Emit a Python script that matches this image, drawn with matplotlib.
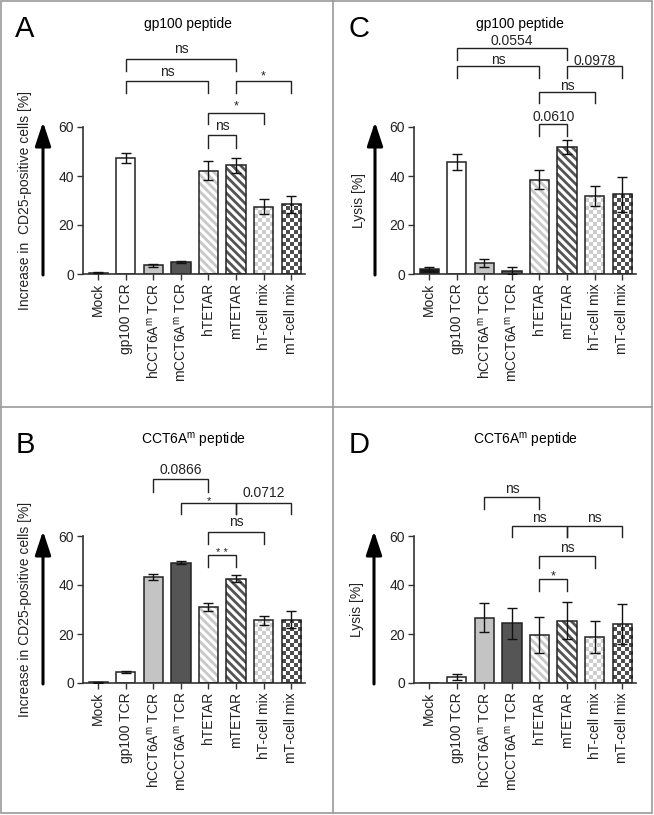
import matplotlib
matplotlib.use('Agg')
import matplotlib.pyplot as plt
import numpy as np
from matplotlib.colors import ListedColormap
from matplotlib.lines import Line2D
from matplotlib.patches import FancyArrowPatch, Rectangle

# ---------------- data ----------------
categories = ['Mock', 'gp100 TCR', r'hCCT6A$^\mathregular{m}$ TCR', r'mCCT6A$^\mathregular{m}$ TCR',
              'hTETAR', 'mTETAR', 'hT-cell mix', 'mT-cell mix']

vals_A = [0.5, 47.3, 3.5, 4.8, 42.2, 44.3, 27.5, 28.4]
err_A = [0.2, 2.0, 0.5, 0.4, 3.9, 3.2, 3.2, 3.4]
vals_C = [2.0, 45.7, 4.5, 1.3, 38.5, 51.8, 31.8, 32.6]
err_C = [0.9, 3.3, 1.6, 1.5, 3.9, 3.0, 4.0, 7.1]
vals_B = [0.3, 4.5, 43.3, 49.0, 31.0, 42.6, 25.6, 25.8]
err_B = [0.2, 0.6, 1.2, 0.6, 1.7, 1.4, 1.8, 3.5]
vals_D = [0.0, 2.3, 26.7, 24.4, 19.6, 25.4, 18.9, 24.2]
err_D = [0.0, 1.2, 6.0, 6.4, 7.3, 7.5, 6.5, 8.1]

yticks = [0, 20, 40, 60]

# comparisons: (left bar, right bar, label)
comp_A = [(1, 5, 'ns'), (1, 4, 'ns'), (5, 7, '*'), (4, 6, '*'), (4, 5, 'ns')]
comp_C = [(1, 5, '0.0554'), (1, 4, 'ns'), (5, 7, '0.0978'), (4, 6, 'ns'), (4, 5, '0.0610')]
comp_B = [(2, 4, '0.0866'), (3, 5, '*'), (5, 7, '0.0712'), (4, 6, 'ns'), (4, 5, '* *')]
comp_D = [(2, 4, 'ns'), (3, 5, 'ns'), (5, 7, 'ns'), (4, 6, 'ns'), (4, 5, '*')]

# ---------------- style ----------------
plt.rcParams['font.family'] = ['Liberation Sans', 'DejaVu Sans']
plt.rcParams['mathtext.fontset'] = 'custom'
plt.rcParams['mathtext.rm'] = 'Liberation Sans'
plt.rcParams['hatch.linewidth'] = 2.0

W, H = 654, 815
fig = plt.figure(figsize=(W / 100, H / 100), dpi=100)
fig.patch.set_facecolor('white')


def fx(x):
    return x / W


def fy(y):
    return 1 - y / H


kinds = ['solid', 'solid', 'solid', 'solid', 'hatch', 'hatch', 'check', 'check']
colors = ['#1a1a1a', 'white', '#c4c4c4', '#555555', '#c8c8c8', '#555555', '#cdcdcd', '#4e4e4e']
EDGE = '#222222'
XL = (-0.55, 7.5)
HATCH = '\\' * 4


def make_panel(box, vals, errs, comps, brk, letter, letter_xy, title, title_xy,
               ylabel, ylabel_x, arrow_x):
    l, r, t, b = box
    ax = fig.add_axes([fx(l), fy(b), (r - l) / W, (b - t) / H])
    x = np.arange(len(vals))
    ncols = int(round((r - l) / 4.0))
    nrows = int(round((b - t) / 4.0))
    checker = np.add.outer(np.arange(nrows), np.arange(ncols)) % 2
    for i, v in enumerate(vals):
        k, c = kinds[i], colors[i]
        if k == 'solid':
            ax.bar(i, v, 0.7, color=c, edgecolor=EDGE, linewidth=1.1, zorder=2)
        elif k == 'hatch':
            ax.bar(i, v, 0.7, color='white', edgecolor=c, hatch=HATCH, linewidth=0, zorder=2)
            ax.bar(i, v, 0.7, fill=False, edgecolor=EDGE, linewidth=1.1, zorder=3)
        else:
            bb = ax.bar(i, v, 0.7, color='white', edgecolor='none', linewidth=0, zorder=2)
            im = ax.imshow(checker, extent=(XL[0], XL[1], 0, 60), cmap=ListedColormap(['white', c]),
                           interpolation='nearest', aspect='auto', origin='lower', zorder=2.5)
            im.set_clip_path(bb[0])
            ax.bar(i, v, 0.7, fill=False, edgecolor=EDGE, linewidth=1.1, zorder=3)
    ev = np.array(errs)
    m = ev > 0
    ax.errorbar(x[m], np.array(vals)[m], yerr=ev[m], fmt='none', ecolor='#111111',
                elinewidth=1.0, capsize=3.5, capthick=1.0, zorder=4)
    ax.set_xlim(*XL)
    ax.set_ylim(0, 60)
    ax.set_facecolor('none')
    for s in ['top', 'right']:
        ax.spines[s].set_visible(False)
    for s in ['left', 'bottom']:
        ax.spines[s].set_color('#333333')
        ax.spines[s].set_linewidth(1.2)
    ax.spines['left'].set_bounds(0, 60)
    ax.set_yticks(yticks)
    ax.set_xticks(x)
    ax.set_xticklabels(categories, rotation=90)
    ax.tick_params(length=4.5, width=1.0, pad=2, color='#333333', labelsize=10, labelcolor='#222222')

    # significance brackets
    for (x1, x2, lab), (yl, yleg, ty, fs) in zip(comps, brk):
        ax.plot([x1, x1, x2, x2], [yleg, yl, yl, yleg], color='#222222', lw=1.0,
                clip_on=False, solid_joinstyle='miter', zorder=5)
        ax.text((x1 + x2) / 2, ty, lab, ha='center', va='baseline', fontsize=fs,
                color='#222222', clip_on=False)

    fig.text(fx(letter_xy[0]), fy(letter_xy[1]), letter, fontsize=21, ha='left', va='baseline')
    fig.text(fx(title_xy[0]), fy(title_xy[1]), title, fontsize=10, ha='center', va='baseline')
    fig.text(fx(ylabel_x), fy((t + b) / 2), ylabel, fontsize=10, rotation=90,
             ha='center', va='center', color='#222222')
    arr = FancyArrowPatch((fx(arrow_x), fy(b + 1)), (fx(arrow_x), fy(t - 5)),
                          transform=fig.transFigure, arrowstyle='-|>,head_width=0.48,head_length=1.45',
                          mutation_scale=10, lw=2.2, color='black', shrinkA=0, shrinkB=0)
    fig.add_artist(arr)
    return ax


# bracket geometry (line height, leg bottom, label baseline, label size)
brk_A = [(87.8, 82.9, 90.2, 10), (78.8, 73.9, 80.8, 10), (78.8, 73.9, 79.5, 9),
         (65.7, 61.2, 67.0, 9), (56.7, 51.4, 58.8, 10)]
brk_C = [(92.2, 87.3, 93.5, 10), (84.9, 80.0, 85.6, 10), (84.9, 80.0, 85.4, 10),
         (74.3, 69.8, 75.1, 10), (61.2, 56.3, 62.4, 10)]
brk_B = [(83.1, 78.1, 85.3, 10), (73.6, 69.0, 73.0, 8), (73.6, 69.0, 75.9, 10),
         (61.5, 56.7, 64.1, 10), (52.2, 47.5, 52.0, 8)]
brk_D = [(75.8, 71.0, 77.6, 10), (64.2, 59.5, 65.7, 10), (64.2, 59.5, 65.7, 10),
         (52.0, 47.1, 53.5, 10), (42.4, 37.6, 42.3, 9)]

make_panel((83, 305, 127, 274), vals_A, err_A, comp_A, brk_A, 'A', (15, 37), 'gp100 peptide', (188, 28),
           'Increase in  CD25-positive cells [%]', 25, 43)
make_panel((414, 636, 127, 274), vals_C, err_C, comp_C, brk_C, 'C', (348, 37), 'gp100 peptide', (520, 28),
           'Lysis [%]', 359, 375)
make_panel((83, 305, 536, 683), vals_B, err_B, comp_B, brk_B, 'B', (16, 453),
           r'CCT6A$^\mathregular{m}$ peptide', (193, 445),
           'Increase in CD25-positive cells [%]', 25, 43)
make_panel((414, 636, 536, 683), vals_D, err_D, comp_D, brk_D, 'D', (349, 453),
           r'CCT6A$^\mathregular{m}$ peptide', (525, 445),
           'Lysis [%]', 357, 374)

# panel frame lines
gc = '#9a9a9a'
fig.add_artist(Rectangle((fx(1), fy(813)), (652 - 1) / W, (813 - 1) / H, transform=fig.transFigure,
                         fill=False, edgecolor=gc, lw=1.2))
fig.add_artist(Line2D([fx(333), fx(333)], [fy(1), fy(813)], transform=fig.transFigure, color=gc, lw=1.2))
fig.add_artist(Line2D([fx(1), fx(652)], [fy(407), fy(407)], transform=fig.transFigure, color=gc, lw=1.2))

fig.savefig('out.png', dpi=100, facecolor='white')
